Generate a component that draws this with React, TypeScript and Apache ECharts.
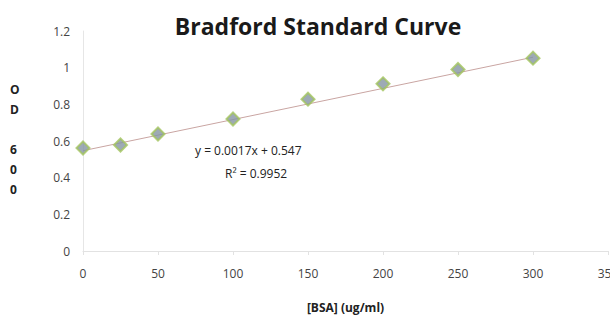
import React, { useEffect, useRef } from "react";
import * as echarts from "echarts";

const concentrations = [0, 25, 50, 100, 150, 200, 250, 300];
const absorbance = [0.562, 0.578, 0.638, 0.72, 0.828, 0.912, 0.99, 1.052];
const slope = 0.0017;
const intercept = 0.547;
const equationText = "y = 0.0017x + 0.547";
const r2Text = "R² = 0.9952";
const xTickMax = 350;
const yTickMax = 1.2;

export default function App() {
  const ref = useRef<HTMLDivElement>(null);
  useEffect(() => {
    if (!ref.current) return;
    const chart = echarts.init(ref.current, null, { renderer: "svg" });
    const font = "'Open Sans', 'Liberation Sans', sans-serif";
    const fitStart = concentrations[0];
    const fitEnd = concentrations[concentrations.length - 1];
    chart.setOption({
      animation: false,
      backgroundColor: "#ffffff",
      title: {
        text: "Bradford Standard Curve",
        left: 313,
        top: 9,
        textAlign: "center",
        textStyle: { fontFamily: font, fontWeight: "bold", fontSize: 23, color: "#1a1a1a" },
      },
      grid: { left: 83, right: 2, top: 31, bottom: 74, containLabel: false, outerBoundsMode: "none" },
      xAxis: {
        type: "value",
        min: 0,
        max: xTickMax,
        interval: 50,
        name: "[BSA] (ug/ml)",
        nameLocation: "middle",
        nameGap: 50,
        nameTextStyle: { fontFamily: font, fontWeight: "bold", fontSize: 12, color: "#222" },
        axisLine: { show: true, lineStyle: { color: "#e2e2e2", width: 1 } },
        axisTick: { show: true, length: 4, lineStyle: { color: "#e2e2e2" } },
        axisLabel: { margin: 16, fontFamily: font, fontSize: 12, color: "#444" },
        splitLine: { show: false },
      },
      yAxis: {
        type: "value",
        min: 0,
        max: yTickMax,
        interval: 0.2,
        axisLine: { show: true, lineStyle: { color: "#e6e6e6", width: 1 } },
        axisTick: { show: false },
        axisLabel: { margin: 13, fontFamily: font, fontSize: 12, color: "#444" },
        splitLine: { show: false },
      },
      graphic: [
        {
          type: "text",
          left: 10,
          top: 79,
          style: {
            text: "O\nD\n\n6\n0\n0",
            fontFamily: font,
            fontWeight: "bold",
            fontSize: 12,
            lineHeight: 20,
            fill: "#222",
          },
        },
        {
          type: "text",
          left: 195,
          top: 144,
          style: { text: equationText, fontFamily: font, fontSize: 12, fill: "#222" },
        },
        {
          type: "text",
          left: 225,
          top: 167,
          style: { text: r2Text, fontFamily: font, fontSize: 12, fill: "#222" },
        },
      ],
      series: [
        {
          type: "line",
          data: [
            [fitStart, intercept + slope * fitStart],
            [fitEnd, intercept + slope * fitEnd],
          ],
          symbol: "none",
          lineStyle: { color: "#c9a5a2", width: 1 },
          z: 1,
        },
        {
          type: "scatter",
          data: concentrations.map((c, i) => [c, absorbance[i]]),
          symbol: "diamond",
          symbolSize: 13,
          itemStyle: { color: "#8495a3", borderColor: "#a3c45e", borderWidth: 2 },
          z: 2,
        },
      ],
    });
    return () => chart.dispose();
  }, []);
  return <div ref={ref} style={{ width: 610, height: 325, position: "absolute", left: 0, top: 0 }} />;
}
